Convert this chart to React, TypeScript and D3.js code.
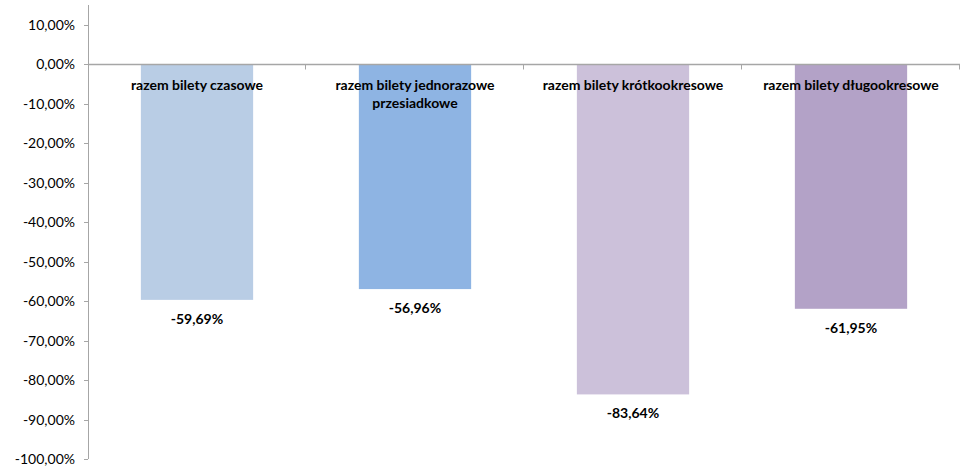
import * as d3 from "d3";
import { useCallback } from "react";

const categories = [
  ["razem bilety czasowe"],
  ["razem bilety jednorazowe", "przesiadkowe"],
  ["razem bilety krótkookresowe"],
  ["razem bilety długookresowe"],
];
const values = [-59.69, -56.96, -83.64, -61.95];
const barColors = ["#B9CDE5", "#8EB4E3", "#CCC1DA", "#B3A2C7"];
const yTicks = [10, 0, -10, -20, -30, -40, -50, -60, -70, -80, -90, -100];

const fmt = (v: number) => v.toFixed(2).replace(".", ",") + "%";

export default function App() {
  const renderChart = useCallback((node: HTMLDivElement | null) => {
    if (!node) return;
    const width = 966;
    const height = 470;
    const margin = { top: 5, right: 6, bottom: 11, left: 88 };
    const font = "Lato, 'Open Sans', sans-serif";

    const container = d3
      .select(node)
      .append("svg")
      .attr("width", width)
      .attr("height", height)
      .style("position", "absolute")
      .style("left", "0px")
      .style("top", "0px");

    const svg = container
      .append("g")
      .attr("transform", `translate(${margin.left},${margin.top})`);

    const innerW = width - margin.left - margin.right;
    const innerH = height - margin.top - margin.bottom;

    const xScale = d3
      .scaleBand<number>()
      .domain(categories.map((_, i) => i))
      .range([0, innerW])
      .paddingInner(0.485)
      .paddingOuter(0.2425);

    const yScale = d3.scaleLinear().domain([-100, 15]).range([innerH, 0]);

    // bars
    svg
      .selectAll("rect.bar")
      .data(values)
      .enter()
      .append("rect")
      .attr("class", "bar")
      .attr("x", (_, i) => xScale(i) ?? 0)
      .attr("width", xScale.bandwidth())
      .attr("y", yScale(0))
      .attr("height", (d) => yScale(d) - yScale(0))
      .attr("fill", (_, i) => barColors[i]);

    // y axis
    const yAxis = svg.append("g");
    yAxis
      .append("line")
      .attr("x1", 0.5)
      .attr("x2", 0.5)
      .attr("y1", 0)
      .attr("y2", innerH)
      .attr("stroke", "#A6A6A6");
    const tick = yAxis
      .selectAll("g.tick")
      .data(yTicks)
      .enter()
      .append("g")
      .attr("transform", (d) => `translate(0,${Math.round(yScale(d)) + 0.5})`);
    tick
      .append("line")
      .attr("x1", -4)
      .attr("x2", 0)
      .attr("stroke", "#A6A6A6");
    tick
      .append("text")
      .attr("x", -13)
      .attr("dy", "0.35em")
      .attr("text-anchor", "end")
      .attr("font-family", font)
      .attr("font-size", "14px")
      .attr("fill", "#000")
      .text((d) => fmt(d));

    // zero (category) axis
    const y0 = Math.round(yScale(0)) + 0.5;
    svg
      .append("line")
      .attr("x1", 0)
      .attr("x2", innerW)
      .attr("y1", y0)
      .attr("y2", y0)
      .attr("stroke", "#A6A6A6")
      .attr("stroke-width", 1.5);
    const step = xScale.step();
    svg
      .selectAll("line.ctick")
      .data(d3.range(1, categories.length + 1))
      .enter()
      .append("line")
      .attr("x1", (d) => Math.round(d * step) - 0.5)
      .attr("x2", (d) => Math.round(d * step) - 0.5)
      .attr("y1", y0)
      .attr("y2", y0 + 5)
      .attr("stroke", "#A6A6A6");

    // category labels
    svg
      .selectAll("text.cat")
      .data(categories)
      .enter()
      .append("text")
      .attr("class", "cat")
      .attr("x", (_, i) => (xScale(i) ?? 0) + xScale.bandwidth() / 2)
      .attr("y", y0 + 25)
      .attr("text-anchor", "middle")
      .attr("font-family", font)
      .attr("font-size", "14px")
      .attr("font-weight", "bold")
      .attr("fill", "#000")
      .each(function (lines) {
        const t = d3.select(this);
        lines.forEach((l, j) => {
          t.append("tspan")
            .attr("x", t.attr("x"))
            .attr("dy", j === 0 ? 0 : 18)
            .text(l);
        });
      });

    // value labels
    svg
      .selectAll("text.val")
      .data(values)
      .enter()
      .append("text")
      .attr("class", "val")
      .attr("x", (_, i) => (xScale(i) ?? 0) + xScale.bandwidth() / 2)
      .attr("y", (d) => yScale(d) + 24)
      .attr("text-anchor", "middle")
      .attr("font-family", font)
      .attr("font-size", "14px")
      .attr("font-weight", "bold")
      .attr("fill", "#000")
      .text((d) => fmt(d));

    return () => {
      container.remove();
    };
  }, []);

  return <div ref={renderChart}></div>;
}
